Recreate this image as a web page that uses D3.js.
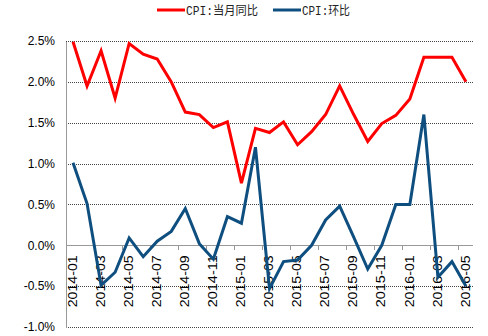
<!DOCTYPE html>
<html>
<head>
<meta charset="utf-8">
<script src="https://cdn.jsdelivr.net/npm/d3@7"></script>
<style>
  html, body { margin: 0; padding: 0; background: #fff; }
  svg { display: block; }
</style>
</head>
<body>
<svg id="chart" width="488" height="336"></svg>
<script>
// Monthly CPI, 2014-01 .. 2016-05
const months = [
  "2014-01","2014-02","2014-03","2014-04","2014-05","2014-06","2014-07","2014-08",
  "2014-09","2014-10","2014-11","2014-12","2015-01","2015-02","2015-03","2015-04",
  "2015-05","2015-06","2015-07","2015-08","2015-09","2015-10","2015-11","2015-12",
  "2016-01","2016-02","2016-03","2016-04","2016-05"
];
// year-on-year, %
const cpiYoY = [2.49, 1.95, 2.38, 1.80, 2.47, 2.34, 2.28, 2.00, 1.63, 1.60, 1.44, 1.51, 0.76, 1.43, 1.38, 1.51,
                1.23, 1.39, 1.60, 1.95, 1.60, 1.27, 1.49, 1.59, 1.79, 2.30, 2.30, 2.30, 2.00];
// month-on-month, %
const cpiMoM = [1.01, 0.51, -0.49, -0.33, 0.09, -0.14, 0.05, 0.17, 0.45, 0.02, -0.17, 0.35, 0.27, 1.20, -0.53, -0.20,
                -0.18, 0.00, 0.31, 0.48, 0.10, -0.29, 0.00, 0.50, 0.50, 1.60, -0.39, -0.20, -0.50];
const yTicks = [2.5, 2.0, 1.5, 1.0, 0.5, 0.0, -0.5, -1.0];
const seriesNames = ["CPI:当月同比", "CPI:环比"];
const seriesColors = ["#ff0000", "#0e4f80"];

const svg = d3.select("#chart");
const plotL = 66, plotR = 473, plotT = 41, plotB = 327;

const x = d3.scaleBand().domain(months).range([plotL, plotR]).paddingInner(0).paddingOuter(0);
const cx = m => x(m) + x.bandwidth() / 2;
const y = d3.scaleLinear().domain([-1.0, 2.5]).range([plotB, plotT]);

// horizontal gridlines
svg.append("g").selectAll("line")
  .data(yTicks.filter(v => v !== 0))
  .join("line")
  .attr("x1", plotL).attr("x2", plotR)
  .attr("y1", d => Math.round(y(d)) + 0.5).attr("y2", d => Math.round(y(d)) + 0.5)
  .attr("stroke", "#444").attr("stroke-width", 1)
  .attr("stroke-dasharray", "1,1");

// y axis
const yAxis = d3.axisLeft(y).tickValues(yTicks).tickSize(0).tickPadding(11)
  .tickFormat(d => d.toFixed(1) + "%");
const gy = svg.append("g").attr("transform", `translate(${plotL},0)`).call(yAxis);
gy.select(".domain").attr("stroke", "#999").attr("shape-rendering", "crispEdges");
gy.selectAll("text")
  .attr("font-family", "'Liberation Sans', Arial, sans-serif")
  .attr("font-size", 12).attr("fill", "#000");

// zero line with category ticks
const gx = svg.append("g");
gx.append("line")
  .attr("x1", plotL).attr("x2", plotR)
  .attr("y1", y(0)).attr("y2", y(0))
  .attr("stroke", "#999").attr("shape-rendering", "crispEdges");
gx.selectAll("line.tick")
  .data(months.filter((m, i) => i % 2 === 0 && i > 0))
  .join("line").attr("class", "tick")
  .attr("x1", d => x(d)).attr("x2", d => x(d))
  .attr("y1", y(0)).attr("y2", y(0) + 5)
  .attr("stroke", "#999").attr("shape-rendering", "crispEdges");

// rotated month labels
gx.selectAll("text")
  .data(months.filter((m, i) => i % 2 === 0))
  .join("text")
  .attr("transform", d => `translate(${cx(d) - 1},${y(0) + 10}) rotate(-90)`)
  .attr("text-anchor", "end")
  .attr("dy", "0.36em")
  .attr("font-family", "'Liberation Sans', Arial, sans-serif")
  .attr("font-size", 13)
  .attr("textLength", 52)
  .attr("lengthAdjust", "spacingAndGlyphs")
  .attr("fill", "#000")
  .text(d => d);

// series lines
const line = d3.line().x((d, i) => cx(months[i])).y(d => y(d));
[cpiMoM, cpiYoY].forEach((vals, k) => {
  const color = k === 0 ? seriesColors[1] : seriesColors[0];
  svg.append("path")
    .datum(vals)
    .attr("d", line)
    .attr("fill", "none")
    .attr("stroke", color)
    .attr("stroke-width", 3)
    .attr("stroke-linejoin", "miter");
});

// legend
const legend = svg.append("g");
const legendX = [157, 273];
const legendTextW = [72, 48];
seriesNames.forEach((name, i) => {
  const lx = legendX[i];
  legend.append("line")
    .attr("x1", lx).attr("x2", lx + 28)
    .attr("y1", 10).attr("y2", 10)
    .attr("stroke", seriesColors[i]).attr("stroke-width", 3);
  legend.append("text")
    .attr("x", lx + 29).attr("y", 14.5)
    .attr("font-family", "'Liberation Mono', 'Noto Sans CJK SC', monospace")
    .attr("font-size", 12)
    .attr("textLength", legendTextW[i])
    .attr("lengthAdjust", "spacingAndGlyphs")
    .attr("fill", "#222")
    .text(name);
});
</script>
</body>
</html>
